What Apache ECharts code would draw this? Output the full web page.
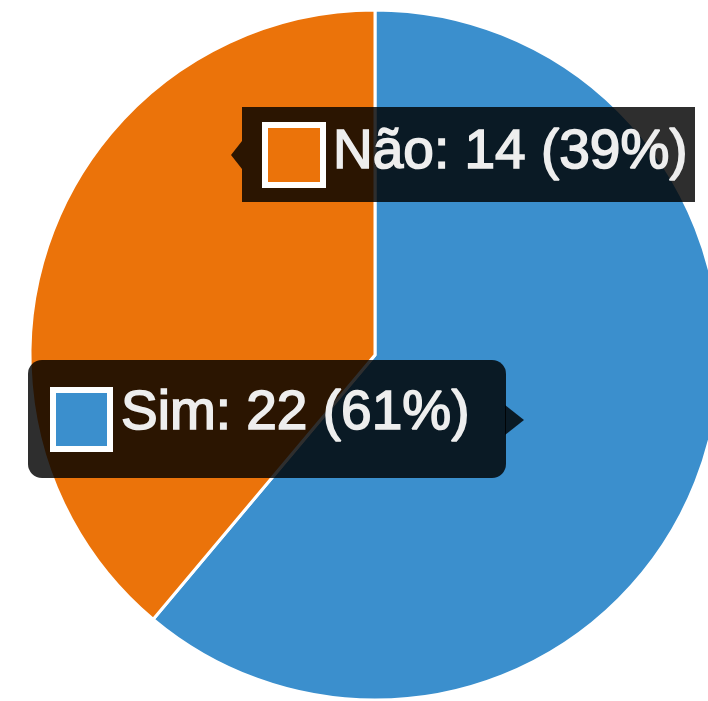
<!DOCTYPE html>
<html>
<head>
<meta charset="utf-8">
<script src="https://cdn.jsdelivr.net/npm/echarts@6/dist/echarts.min.js"></script>
<style>
  html, body { margin: 0; padding: 0; background: #ffffff; }
  #chart { width: 708px; height: 701px; }
</style>
</head>
<body>
<div id="chart"></div>
<script>
// Answers and counts
const categories = ['Sim', 'Não'];
const counts = [22, 14];
const sliceColors = ['#3b8fcd', '#eb730a'];

const total = counts.reduce((a, b) => a + b, 0);
const pct = counts.map(v => Math.round(v / total * 100));
const labelText = categories.map((c, i) => `${c}: ${counts[i]} (${pct[i]}%)`);

const FONT = '"Liberation Sans", Arial, sans-serif';
const TIP_BG = 'rgba(0,0,0,0.82)';
const TIP_TEXT = '#eeeeee';

// Tooltip-style callout: dark box, caret, colour swatch and text
function callout(i, box, caret, swatch, textPos) {
  return {
    type: 'group',
    z: 100,
    children: [
      { type: 'rect', z: 100, shape: { x: box[0], y: box[1], width: box[2], height: box[3], r: box[4] },
        style: { fill: TIP_BG } },
      { type: 'polygon', z: 100, shape: { points: caret }, style: { fill: TIP_BG } },
      { type: 'rect', z: 101, shape: { x: swatch[0], y: swatch[1], width: swatch[2], height: swatch[3] },
        style: { fill: sliceColors[i], stroke: '#ffffff', lineWidth: 6 } },
      { type: 'text', z: 101, x: textPos[0], y: textPos[1],
        style: { text: labelText[i], fill: TIP_TEXT, stroke: TIP_TEXT, lineWidth: 1.6,
                 font: '55px ' + FONT,
                 textVerticalAlign: 'middle', verticalAlign: 'middle' } }
    ]
  };
}

const chart = echarts.init(document.getElementById('chart'), null, { renderer: 'canvas' });
chart.setOption({
  backgroundColor: '#ffffff',
  animation: false,
  series: [{
    type: 'pie',
    z: 1,
    center: [375, 355],
    radius: 345,
    startAngle: 90,
    clockwise: true,
    label: { show: false },
    labelLine: { show: false },
    emphasis: { disabled: true },
    itemStyle: { borderColor: '#ffffff', borderWidth: 3 },
    data: categories.map((c, i) => ({ name: c, value: counts[i], itemStyle: { color: sliceColors[i] } }))
  }],
  graphic: {
    zlevel: 1,
    elements: [
      callout(1, [242, 107, 453, 95, 0], [[242, 141], [231, 155], [242, 169]],
              [265, 125, 58, 60], [333, 153]),
      callout(0, [28, 360, 478, 118, 14], [[505, 405], [524, 420], [505, 435]],
              [53, 390, 57, 59], [121, 414])
    ]
  }
});
</script>
</body>
</html>
